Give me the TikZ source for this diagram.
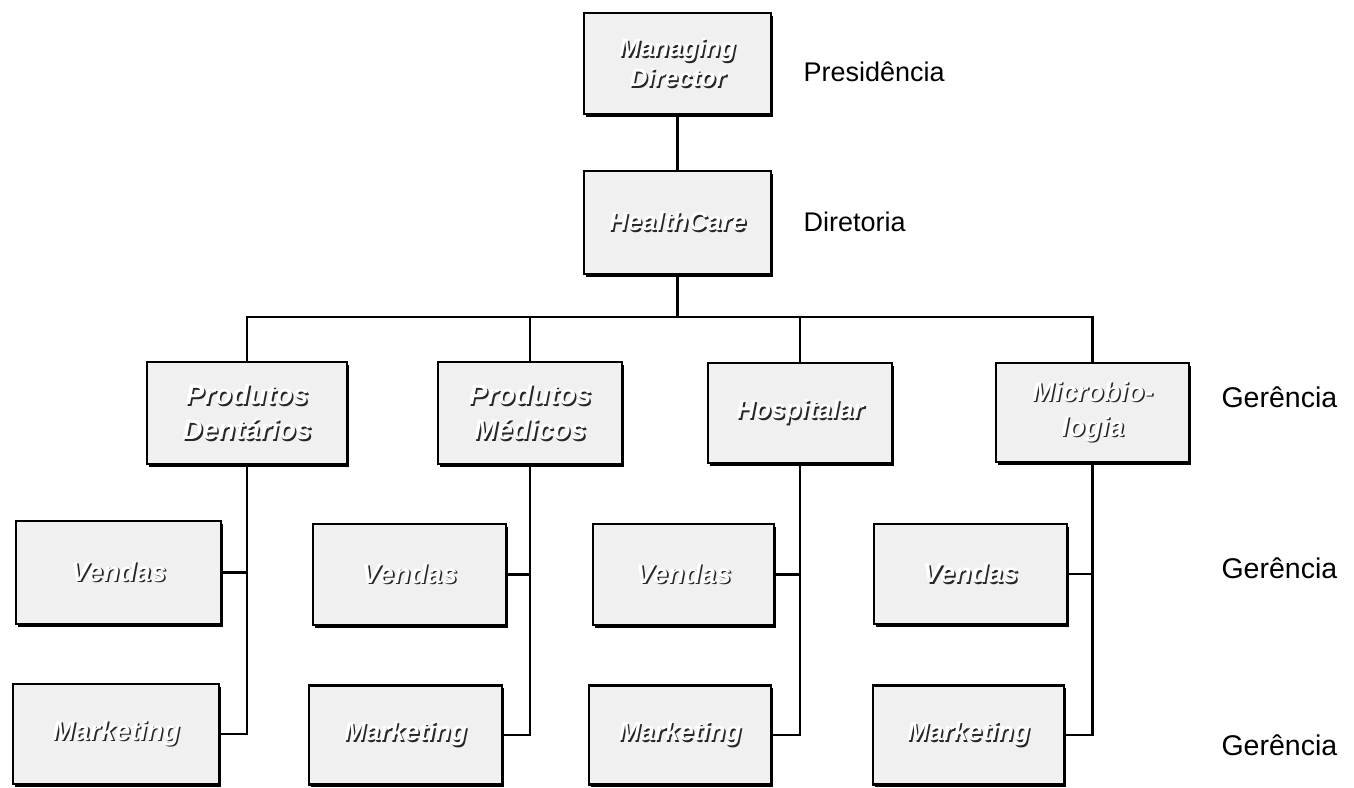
\documentclass[tikz,border=0pt]{standalone}
\usepackage{fontspec}
\setmainfont{Liberation Sans}
\usetikzlibrary{shadows}
% white lettering with a dark offset copy underneath
\newcommand\embossed[1]{\makebox[0pt][l]{\hspace{1.6pt}\raisebox{-1.6pt}{\textcolor{black!85}{#1}}}\textcolor{white}{#1}}

\begin{document}
\begin{tikzpicture}[x=1pt,y=-1pt,
  unit/.style={draw=black, line width=2.3pt, fill=black!6, rectangle, inner sep=0pt,
    align=center, font=\fontsize{26}{33}\selectfont\bfseries\itshape,
    drop shadow={shadow xshift=1.6pt, shadow yshift=-2.6pt, fill=black, opacity=1}},
  orgbox/.style 2 args={unit, minimum width=#1, minimum height=#2},
  link/.style={line width=2.2pt},
  level/.style={anchor=west, font=\fontsize{27}{30}\selectfont}]

\useasboundingbox (0,0) rectangle (1354,787);

% top of the hierarchy
\node[orgbox={187pt}{101pt}, font=\fontsize{25}{30}\selectfont\bfseries\itshape] (md) at (677.5,63.5) {\embossed{Managing}\\\embossed{Director}};
\node[orgbox={187pt}{103pt}] (hc) at (677.5,222.5) {\embossed{HealthCare}};

% divisions
\node[orgbox={200pt}{102pt}, font=\fontsize{28}{35}\selectfont\bfseries\itshape] (g1) at (247,413) {\embossed{Produtos}\\\embossed{Dentários}};
\node[orgbox={184pt}{102pt}, font=\fontsize{28}{35}\selectfont\bfseries\itshape] (g2) at (530,413) {\embossed{Produtos}\\\embossed{Médicos}};
\node[orgbox={184pt}{100pt}] (g3) at (800,413) {\embossed{Hospitalar}};
\node[orgbox={193pt}{99pt}, font=\fontsize{27}{35}\selectfont\bfseries\itshape] (g4) at (1092.5,412.5) {\embossed{Microbio-}\\\embossed{logia}};

% sales units
\node[orgbox={205pt}{103pt}, font=\fontsize{27}{33}\selectfont\bfseries\itshape] (v1) at (118.5,572.5) {\embossed{Vendas}};
\node[orgbox={193pt}{101pt}, font=\fontsize{27}{33}\selectfont\bfseries\itshape] (v2) at (409.5,574.5) {\embossed{Vendas}};
\node[orgbox={181pt}{101pt}, font=\fontsize{27}{33}\selectfont\bfseries\itshape] (v3) at (683.5,574.5) {\embossed{Vendas}};
\node[orgbox={193pt}{100pt}, font=\fontsize{27}{33}\selectfont\bfseries\itshape] (v4) at (970.5,574) {\embossed{Vendas}};

% marketing units
\node[orgbox={206pt}{100pt}, font=\fontsize{27}{33}\selectfont\bfseries\itshape] (k1) at (116,734) {\embossed{Marketing}};
\node[orgbox={193pt}{99pt}] (k2) at (405.5,735) {\embossed{Marketing}};
\node[orgbox={182pt}{99pt}] (k3) at (680,735) {\embossed{Marketing}};
\node[orgbox={191pt}{99pt}] (k4) at (968.5,735) {\embossed{Marketing}};

% connectors
\coordinate (bus) at (677.5,317);
\draw[link] (md.south) -- (hc.north);
\draw[link] (hc.south) -- (bus);
\draw[link] (g1.north) -- (g1.north |- bus) -- (g4.north |- bus) -- (g4.north);
\draw[link] (g2.north) -- (g2.north |- bus);
\draw[link] (g3.north) -- (g3.north |- bus);

\foreach \g/\v/\k in {g1/v1/k1, g2/v2/k2, g3/v3/k3, g4/v4/k4}{
  \draw[link] (\g.south) |- (\k.east);
  \draw[link] (\v.east) -- (\v.east -| \g.south);
}

% level labels
\node[level] (pres) at (800,72) {Presidência};
\node[level] (dir) at (800,222) {Diretoria};
\node[level, font=\fontsize{28.5}{32}\selectfont] (ger1) at (1218,397) {Gerência};
\node[level, font=\fontsize{28.5}{32}\selectfont] (ger2) at (1218,568) {Gerência};
\node[level, font=\fontsize{28.5}{32}\selectfont] (ger3) at (1218,745) {Gerência};
\end{tikzpicture}
\end{document}
